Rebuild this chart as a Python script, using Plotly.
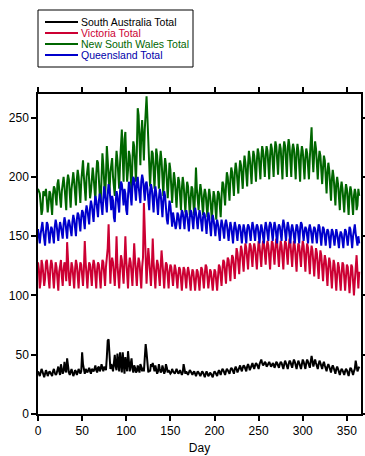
import plotly.graph_objects as go

nsw = [
190,188,186,178,168,172,188, 186,184,190,180,170,178,188, 186,176,168,185,192,190,178,
176,194,198,190,183,174,188, 196,200,192,178,172,195,202, 198,186,174,190,199,204,196,
182,176,198,206,200,188,178, 196,210,214,200,186,180,200, 208,212,196,182,188,204,208,
200,186,180,202,214,212,196, 184,178,206,220,210,194,182, 200,226,214,198,186,204,212,
216,200,188,184,208,222,214, 198,190,212,230,240,216,196, 232,238,212,196,206,222,218,
204,186,214,230,226,208,196, 222,258,252,226,210,236,248, 232,214,240,262,268,250,230,
212,192,208,222,220,200,190, 208,224,218,200,190,212,222, 214,198,184,204,216,210,194,
182,196,212,206,190,178,192, 204,198,184,174,190,200,196, 182,172,190,200,194,180,170,
186,196,192,178,168,182,192, 190,176,168,186,208,190,178, 172,186,194,188,176,168,184,
190,186,172,166,182,190,184, 172,164,178,188,184,170,164, 180,188,186,172,166,184,196,
194,182,176,192,204,200,186, 180,198,208,204,190,184,204, 212,206,192,186,204,214,210,
196,190,208,218,212,198,192, 210,222,216,200,194,212,222, 218,202,196,214,224,220,204,
198,216,226,222,206,200,218, 226,222,206,198,218,228,224, 208,200,220,230,226,210,202,
220,228,224,206,198,222,230, 226,208,200,224,232,226,208, 200,222,228,224,206,198,220,
228,222,204,196,218,226,222, 206,198,216,224,220,204,198, 216,228,242,218,204,220,230,
224,206,198,214,222,218,202, 194,208,218,214,198,186,204, 212,206,190,180,198,206,200,
186,176,194,200,194,180,172, 190,196,190,176,170,186,194, 190,176,168,186,192,188,174,
168,184,190,186,172,176,190, 184]

qld = [
156,150,144,152,160,162,154, 146,142,154,162,160,150,144, 152,158,156,148,144,158,164,
160,150,146,156,162,158,150, 148,160,166,162,152,148,160, 164,160,152,150,162,168,164,
154,150,164,170,168,158,154, 166,172,170,160,156,170,176, 172,164,160,174,180,176,166,
162,176,184,180,170,166,180, 186,182,172,168,182,192,186, 176,170,186,194,190,178,172,
184,180,166,162,178,188,184, 174,170,188,196,194,180,176, 190,186,172,168,184,196,192,
180,176,192,200,198,186,180, 194,200,192,182,178,196,202, 198,186,180,194,196,190,178,
172,188,194,190,176,170,186, 192,186,174,168,182,190,186, 176,166,180,188,184,172,164,
160,172,180,176,164,158,170, 164,158,156,160,170,168,162, 156,166,172,170,160,156,168,
172,168,158,154,166,172,170, 160,156,168,174,170,160,156, 166,172,168,158,154,166,170,
168,158,152,164,170,166,156, 150,162,168,164,154,150,160, 164,160,150,146,158,164,160,
152,148,160,164,160,150,146, 156,162,158,148,144,156,162, 158,150,146,156,160,158,148,
144,154,160,156,148,144,156, 160,158,148,146,156,162,158, 150,146,156,160,158,148,144,
154,160,156,148,144,156,162, 158,150,146,158,162,160,150, 146,156,162,158,148,144,156,
160,158,148,146,158,164,160, 150,146,156,162,158,148,144, 156,160,156,148,144,154,160,
158,148,144,156,162,160,150, 146,154,158,156,148,144,156, 160,156,148,144,154,158,156,
148,144,154,160,158,148,142, 152,158,156,146,142,152,156, 154,146,140,150,156,154,146,
142,150,156,152,146,140,150, 154,152,144,140,150,156,154, 146,142,150,158,156,146,140,
150,156,160,152,144,142,150, 144]

vic = [
128,122,106,112,130,126,118, 108,114,128,130,120,110,106, 124,130,126,112,106,118,128,
124,110,104,120,128,130,116, 108,122,128,124,112,145,126, 116,108,120,128,124,110,106,
122,130,126,114,106,120,128, 126,112,108,122,146,128,114, 106,120,128,126,112,108,124,
130,126,114,106,122,128,126, 112,106,120,130,128,114,108, 124,130,140,160,128,110,126,
132,128,114,108,124,150,126, 112,106,122,134,130,116,110, 128,150,130,114,106,124,132,
128,112,108,126,144,130,116, 108,124,132,128,114,106,124, 132,178,150,120,110,126,140,
130,116,108,124,148,128,114, 106,122,130,126,112,108,124, 138,128,114,106,120,128,126,
112,106,120,126,124,112,108, 118,126,122,110,106,118,124, 122,110,104,116,124,122,110,
106,118,124,120,108,104,116, 122,120,108,104,114,122,120, 108,104,116,124,122,110,106,
118,126,124,112,106,114,122, 120,108,104,114,122,120,108, 104,116,126,124,112,108,122,
130,128,116,110,124,132,130, 118,112,126,134,132,120,114, 128,140,136,124,118,132,142,
138,126,120,134,144,140,128, 122,136,144,142,130,124,138, 144,140,128,122,136,146,142,
130,124,138,146,144,132,126, 140,146,142,130,122,136,146, 144,132,126,140,148,144,130,
124,138,146,142,128,122,138, 146,144,132,126,140,148,144, 130,124,138,146,142,128,120,
136,144,142,130,124,138,146, 142,128,120,136,144,140,126, 118,134,142,138,124,116,130,
140,136,122,114,128,138,134, 120,112,126,134,130,116,108, 124,132,128,114,106,120,130,
126,112,104,118,128,124,110, 104,118,128,126,112,104,116, 126,124,110,102,114,126,124,
110,100,112,130,134,120,106, 120]

sa = [
36,34,32,35,38,36,33, 31,34,37,35,32,34,36, 35,33,32,36,38,35,33,
34,37,40,36,33,42,39, 34,36,44,38,35,47,40, 35,33,36,38,35,32,34,
37,36,33,35,38,36,34, 36,52,42,36,34,38,37, 35,37,39,36,34,38,37,
36,38,41,37,35,39,40, 36,38,42,37,36,40,38, 37,48,62,63,52,38,42,
40,36,45,50,40,37,51, 38,36,52,43,35,52,38, 34,48,40,36,53,42,36,
42,47,38,35,41,39,35, 36,41,38,35,42,40,36, 39,36,45,59,52,38,35,
37,36,42,40,43,38,36, 41,37,34,36,42,38,35, 36,41,38,34,36,42,39,
35,37,36,34,35,38,36, 35,34,36,38,36,34,35, 37,35,33,35,42,38,34,
36,35,33,35,37,36,34, 33,35,36,34,32,34,36, 35,33,32,34,36,35,33,
31,34,36,34,32,33,35, 34,32,31,34,36,35,33, 32,35,37,35,33,36,38,
37,34,33,36,38,37,35, 34,37,39,38,35,34,38, 40,38,35,37,40,41,38,
36,39,41,40,37,36,40, 42,40,37,39,42,43,40, 38,41,43,42,39,38,42,
44,46,43,41,42,44,43, 40,41,43,44,42,40,41, 43,42,39,41,44,43,40,
39,42,44,43,40,38,42, 45,43,39,38,42,45,44, 40,39,43,46,44,40,38,
42,45,43,39,38,42,46, 44,40,38,43,46,44,40, 39,44,49,45,40,43,46,
43,39,38,42,45,43,39, 38,42,44,41,37,36,40, 42,40,37,35,39,41,39,
36,34,38,40,38,35,33, 36,38,37,34,33,36,38, 37,34,32,36,39,38,35,
33,36,38,45,40,36,38, 40]

days = list(range(len(sa)))

series_names = ["South Australia Total", "Victoria Total", "New South Wales Total", "Queensland Total"]
series_colors = ["#000000", "#cc0033", "#006600", "#0000cc"]
legend_text_colors = ["#000000", "#cc0033", "#006600", "#0000aa"]
series_values = [sa, vic, nsw, qld]

x_ticks = [0, 50, 100, 150, 200, 250, 300, 350]
y_ticks = [0, 50, 100, 150, 200, 250]

fig = go.Figure()
for name, color, vals in zip(series_names, series_colors, series_values):
    fig.add_trace(go.Scatter(
        x=days, y=vals, mode="lines", name=name,
        line=dict(color=color, width=2), showlegend=False,
    ))

# plot area in pixels: left 38, right 361, top 94, bottom 414
L, R, T, B = 38, 361, 94, 414
W, H = R - L, B - T

def px(xp):
    return (xp - L) / W

def py(yp):
    return (B - yp) / H

shapes = [dict(type="rect", xref="paper", yref="paper",
               x0=px(38), x1=px(193), y0=py(67), y1=py(10),
               line=dict(color="black", width=1), fillcolor="white")]
annotations = []
row_y = [22, 33, 44, 55]
for name, color, tcolor, yy in zip(series_names, series_colors, legend_text_colors, row_y):
    shapes.append(dict(type="line", xref="paper", yref="paper",
                       x0=px(45), x1=px(78), y0=py(yy), y1=py(yy),
                       line=dict(color=color, width=2)))
    annotations.append(dict(xref="paper", yref="paper", x=px(79), y=py(yy),
                            text=name, showarrow=False, xanchor="left", yanchor="middle",
                            font=dict(size=10.5, color=tcolor)))

fig.update_layout(
    width=365, height=456,
    margin=dict(l=L, r=365 - R, t=T, b=456 - B, autoexpand=False),
    paper_bgcolor="white", plot_bgcolor="white",
    font=dict(family="Liberation Sans, Arial, sans-serif", size=11, color="black"),
    showlegend=False,
    shapes=shapes,
    annotations=annotations,
    xaxis=dict(
        range=[0, 366], tickvals=x_ticks, ticks="outside", ticklen=5,
        tickwidth=1.5, tickcolor="black",
        showline=True, linecolor="black", linewidth=1.5, mirror="ticks",
        showgrid=False, zeroline=False, automargin=False,
        title=dict(text="Day", font=dict(size=12), standoff=6),
        tickfont=dict(size=12),
    ),
    yaxis=dict(
        range=[0, 270], tickvals=y_ticks, ticks="outside", ticklen=5,
        tickwidth=1.5, tickcolor="black",
        showline=True, linecolor="black", linewidth=1.5, mirror="ticks",
        showgrid=False, zeroline=False, automargin=False,
        tickfont=dict(size=12),
    ),
)

fig.write_html("out.html", config={"displayModeBar": False},
               post_script="document.body.style.margin='0px';document.body.style.overflow='hidden';")
